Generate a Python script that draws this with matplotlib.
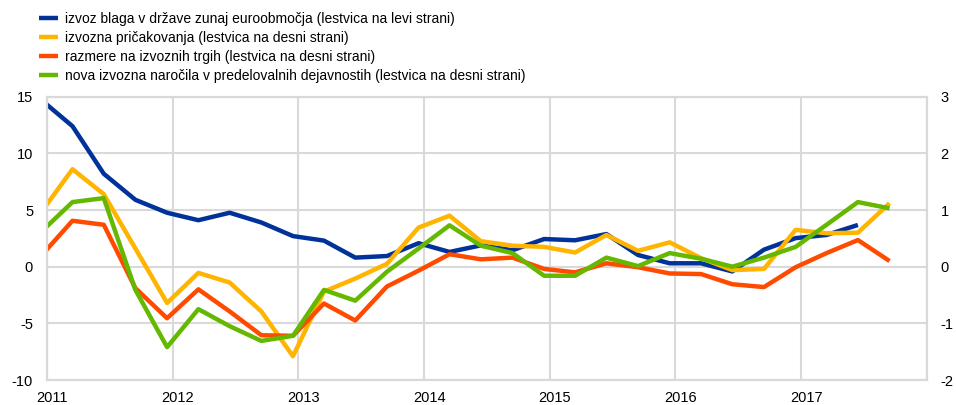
import matplotlib
matplotlib.use("Agg")
import matplotlib.pyplot as plt
import matplotlib.dates as mdates
import matplotlib.transforms as mtransforms
import numpy as np
import pandas as pd
from datetime import datetime

plt.rcParams['font.family'] = ['Liberation Sans', 'DejaVu Sans']
plt.rcParams['axes.unicode_minus'] = False

quarters = pd.period_range("2010Q4", "2017Q3", freq="Q")

goods_exports = [14.7, 12.4, 8.2, 5.9, 4.76, 4.1, 4.76, 3.9, 2.7, 2.3, 0.8, 0.94,
                 2.07, 1.3, 1.88, 1.45, 2.44, 2.33, 2.88, 1.03, 0.3, 0.3, -0.42,
                 1.5, 2.52, 2.8, 3.68, np.nan]
export_expectations = [0.97, 1.72, 1.28, 0.32, -0.64, -0.11, -0.28, -0.79, -1.58,
                       -0.44, -0.21, 0.05, 0.69, 0.9, 0.45, 0.37, 0.35, 0.25, 0.56,
                       0.28, 0.43, 0.15, -0.06, -0.04, 0.65, 0.59, 0.6, 1.12]
export_markets = [0.2, 0.81, 0.74, -0.38, -0.91, -0.4, -0.79, -1.21, -1.22, -0.65,
                  -0.95, -0.35, -0.07, 0.22, 0.13, 0.16, -0.04, -0.1, 0.06, -0.01,
                  -0.12, -0.13, -0.31, -0.36, -0.01, 0.24, 0.47, 0.1]
new_export_orders = [0.62, 1.14, 1.21, -0.41, -1.42, -0.75, -1.05, -1.31, -1.22,
                     -0.41, -0.6, -0.09, 0.32, 0.73, 0.37, 0.24, -0.16, -0.16, 0.16,
                     0.01, 0.24, 0.14, 0.0, 0.16, 0.35, 0.74, 1.14, 1.03]

labels = [
    "izvoz blaga v države zunaj euroobmočja (lestvica na levi strani)",
    "izvozna pričakovanja (lestvica na desni strani)",
    "razmere na izvoznih trgih (lestvica na desni strani)",
    "nova izvozna naročila v predelovalnih dejavnostih (lestvica na desni strani)",
]
year_ticks = [2011, 2012, 2013, 2014, 2015, 2016, 2017]
colors = ["#003299", "#FFB400", "#FF4B00", "#65B800"]

dates = [p.end_time.normalize() - pd.Timedelta(days=15) for p in quarters]

fig = plt.figure(figsize=(9.56, 4.05), dpi=100)
ax = fig.add_axes([47/956, 25/405, (926.7-47)/956, (380-96.7)/405])
ax2 = ax.twinx()

lw = 3.2
grid_c = "#d9d9d9"
l1, = ax.plot(dates, goods_exports, color=colors[0], lw=lw, solid_capstyle='butt')
l2, = ax2.plot(dates, export_expectations, color=colors[1], lw=lw, solid_capstyle='butt')
l3, = ax2.plot(dates, export_markets, color=colors[2], lw=lw, solid_capstyle='butt')
l4, = ax2.plot(dates, new_export_orders, color=colors[3], lw=lw, solid_capstyle='butt')

ax.set_xlim(datetime(2011, 1, 1), datetime(2018, 1, 1))
ax.set_ylim(-10, 15)
ax2.set_ylim(-2, 3)
ax.set_yticks([-10, -5, 0, 5, 10, 15])
ax2.set_yticks([-2, -1, 0, 1, 2, 3])
ax.set_xticks([datetime(y, 1, 1) for y in year_ticks] + [datetime(2018, 1, 1)])
ax.set_xticklabels([str(y) for y in year_ticks] + [""])

ax.grid(True, color=grid_c, lw=1.5)
ax.set_axisbelow(True)
for a in (ax, ax2):
    for s in a.spines.values():
        s.set_color(grid_c)
        s.set_linewidth(1.5)
    a.tick_params(length=0, labelsize=10.5, colors="#000000")
ax.tick_params(axis='y', pad=10)
ax2.tick_params(axis='y', pad=10)
ax.tick_params(axis='x', pad=8)

offset = mtransforms.ScaledTranslation(5/100, 0, fig.dpi_scale_trans)
for lab in ax.get_xticklabels():
    lab.set_transform(lab.get_transform() + offset)

fig.legend([l1, l2, l3, l4], labels, loc='upper left', bbox_to_anchor=(39/956, 1 - 12/405),
           frameon=False, fontsize=10, handlelength=1.4, handletextpad=0.5,
           labelspacing=0.36, borderaxespad=0, borderpad=0)

fig.savefig("out.png", dpi=100)
